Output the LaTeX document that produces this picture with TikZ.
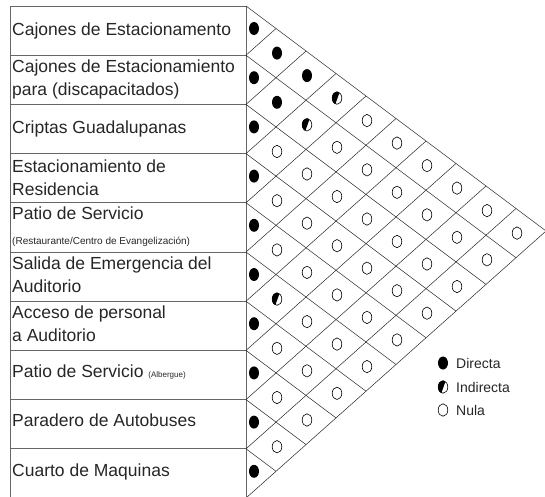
\documentclass[tikz,border=0pt]{standalone}
\usepackage{fontspec}
\setmainfont{Liberation Sans}
\usetikzlibrary{positioning}

\begin{document}
\begin{tikzpicture}[
    x=1pt, y=-1pt,
    row label/.style = {
        anchor=west,
        align=left,
        inner sep=0pt,
        text=black!85,
        font=\fontsize{17.5}{23}\selectfont
    },
    table line/.style = {draw=black!60, line width=0.9pt},
    grid line/.style = {draw=black!85, line width=0.5pt},
    legend text/.style = {anchor=west, inner sep=0pt, text=black!85, font=\fontsize{14}{16}\selectfont},
    directa/.pic = {\fill (0,0) ellipse [x radius=5, y radius=6.5];},
    nula/.pic = {\draw[line width=0.6pt] (0,0) ellipse [x radius=4.8, y radius=6.2];},
    indirecta/.pic = {
        \begin{scope}
            \clip (0,0) ellipse [x radius=5, y radius=6.5];
            \fill (-6,-7) -- (3,-7) -- (-2,7) -- (-6,7) -- cycle;
        \end{scope}
        \draw[line width=0.6pt] (0,0) ellipse [x radius=4.8, y radius=6.2];
    }
]

\useasboundingbox (0,0) rectangle (545,496);

% table of spaces
\draw[table line] (10,6) rectangle (246,498);
\foreach \k in {1,...,9}
    \draw[table line] (10,{6+\k*49.2}) -- (246,{6+\k*49.2});

\node[row label] (row1) at (12,30.6) {Cajones de Estacionamento};
\node[row label] (row2) at (12,79.8) {Cajones de Estacionamiento\\para (discapacitados)};
\node[row label] (row3) at (12,129) {Criptas Guadalupanas};
\node[row label] (row4) at (12,178.2) {Estacionamiento de\\Residencia};
\node[row label] (row5) at (12,226.4) {Patio de Servicio\\[2pt]{\fontsize{10}{11}\selectfont(Restaurante/Centro de Evangelización)}};
\node[row label] (row6) at (12,275) {Salida de Emergencia del\\Auditorio};
\node[row label] (row7) at (12,323.5) {Acceso de personal\\a Auditorio};
\node[row label] (row8) at (12,372) {Patio de Servicio {\fontsize{8}{9}\selectfont(Albergue)}};
\node[row label] (row9) at (12,420) {Paradero de Autobuses};
\node[row label] (row10) at (12,472) {Cuarto de Maquinas};

% diamond grid
\foreach \k in {0,...,10} {
    \draw[grid line] (246,{6+\k*49.2}) -- ++({(10-\k)*30},{(10-\k)*22.5});
    \draw[grid line] (246,{6+\k*49.2}) -- ++({\k*30},{-\k*26.7});
}

% relations
\foreach \i in {1,...,10}
    \pic at (254,{6+(\i-1)*49.2+22.5}) {directa};

\foreach \d in {1,...,9} {
    \pgfmathtruncatemacro\last{10-\d}
    \foreach \i in {1,...,\last} {
        \pgfmathtruncatemacro\kind{(\d==1)*((\i<3)+2*(\i==6)) + (\d==2)*((\i==1)+2*(\i==2)) + (\d==3)*2*(\i==1)}
        \coordinate (cell) at ({247+\d*30},{6+(\i-0.5)*49.2+\d*22.5});
        \ifcase\kind
            \pic at (cell) {nula};
        \or
            \pic at (cell) {directa};
        \or
            \pic at (cell) {indirecta};
        \fi
    }
}

% legend
\coordinate (keyD) at (443,363);
\coordinate (keyI) at (443,387);
\coordinate (keyN) at (443,410);
\pic at (keyD) {directa};
\pic at (keyI) {indirecta};
\pic at (keyN) {nula};
\node[legend text, right=13pt of keyD] (txtD) {Directa};
\node[legend text, right=13pt of keyI] (txtI) {Indirecta};
\node[legend text, right=13pt of keyN] (txtN) {Nula};

\end{tikzpicture}
\end{document}
